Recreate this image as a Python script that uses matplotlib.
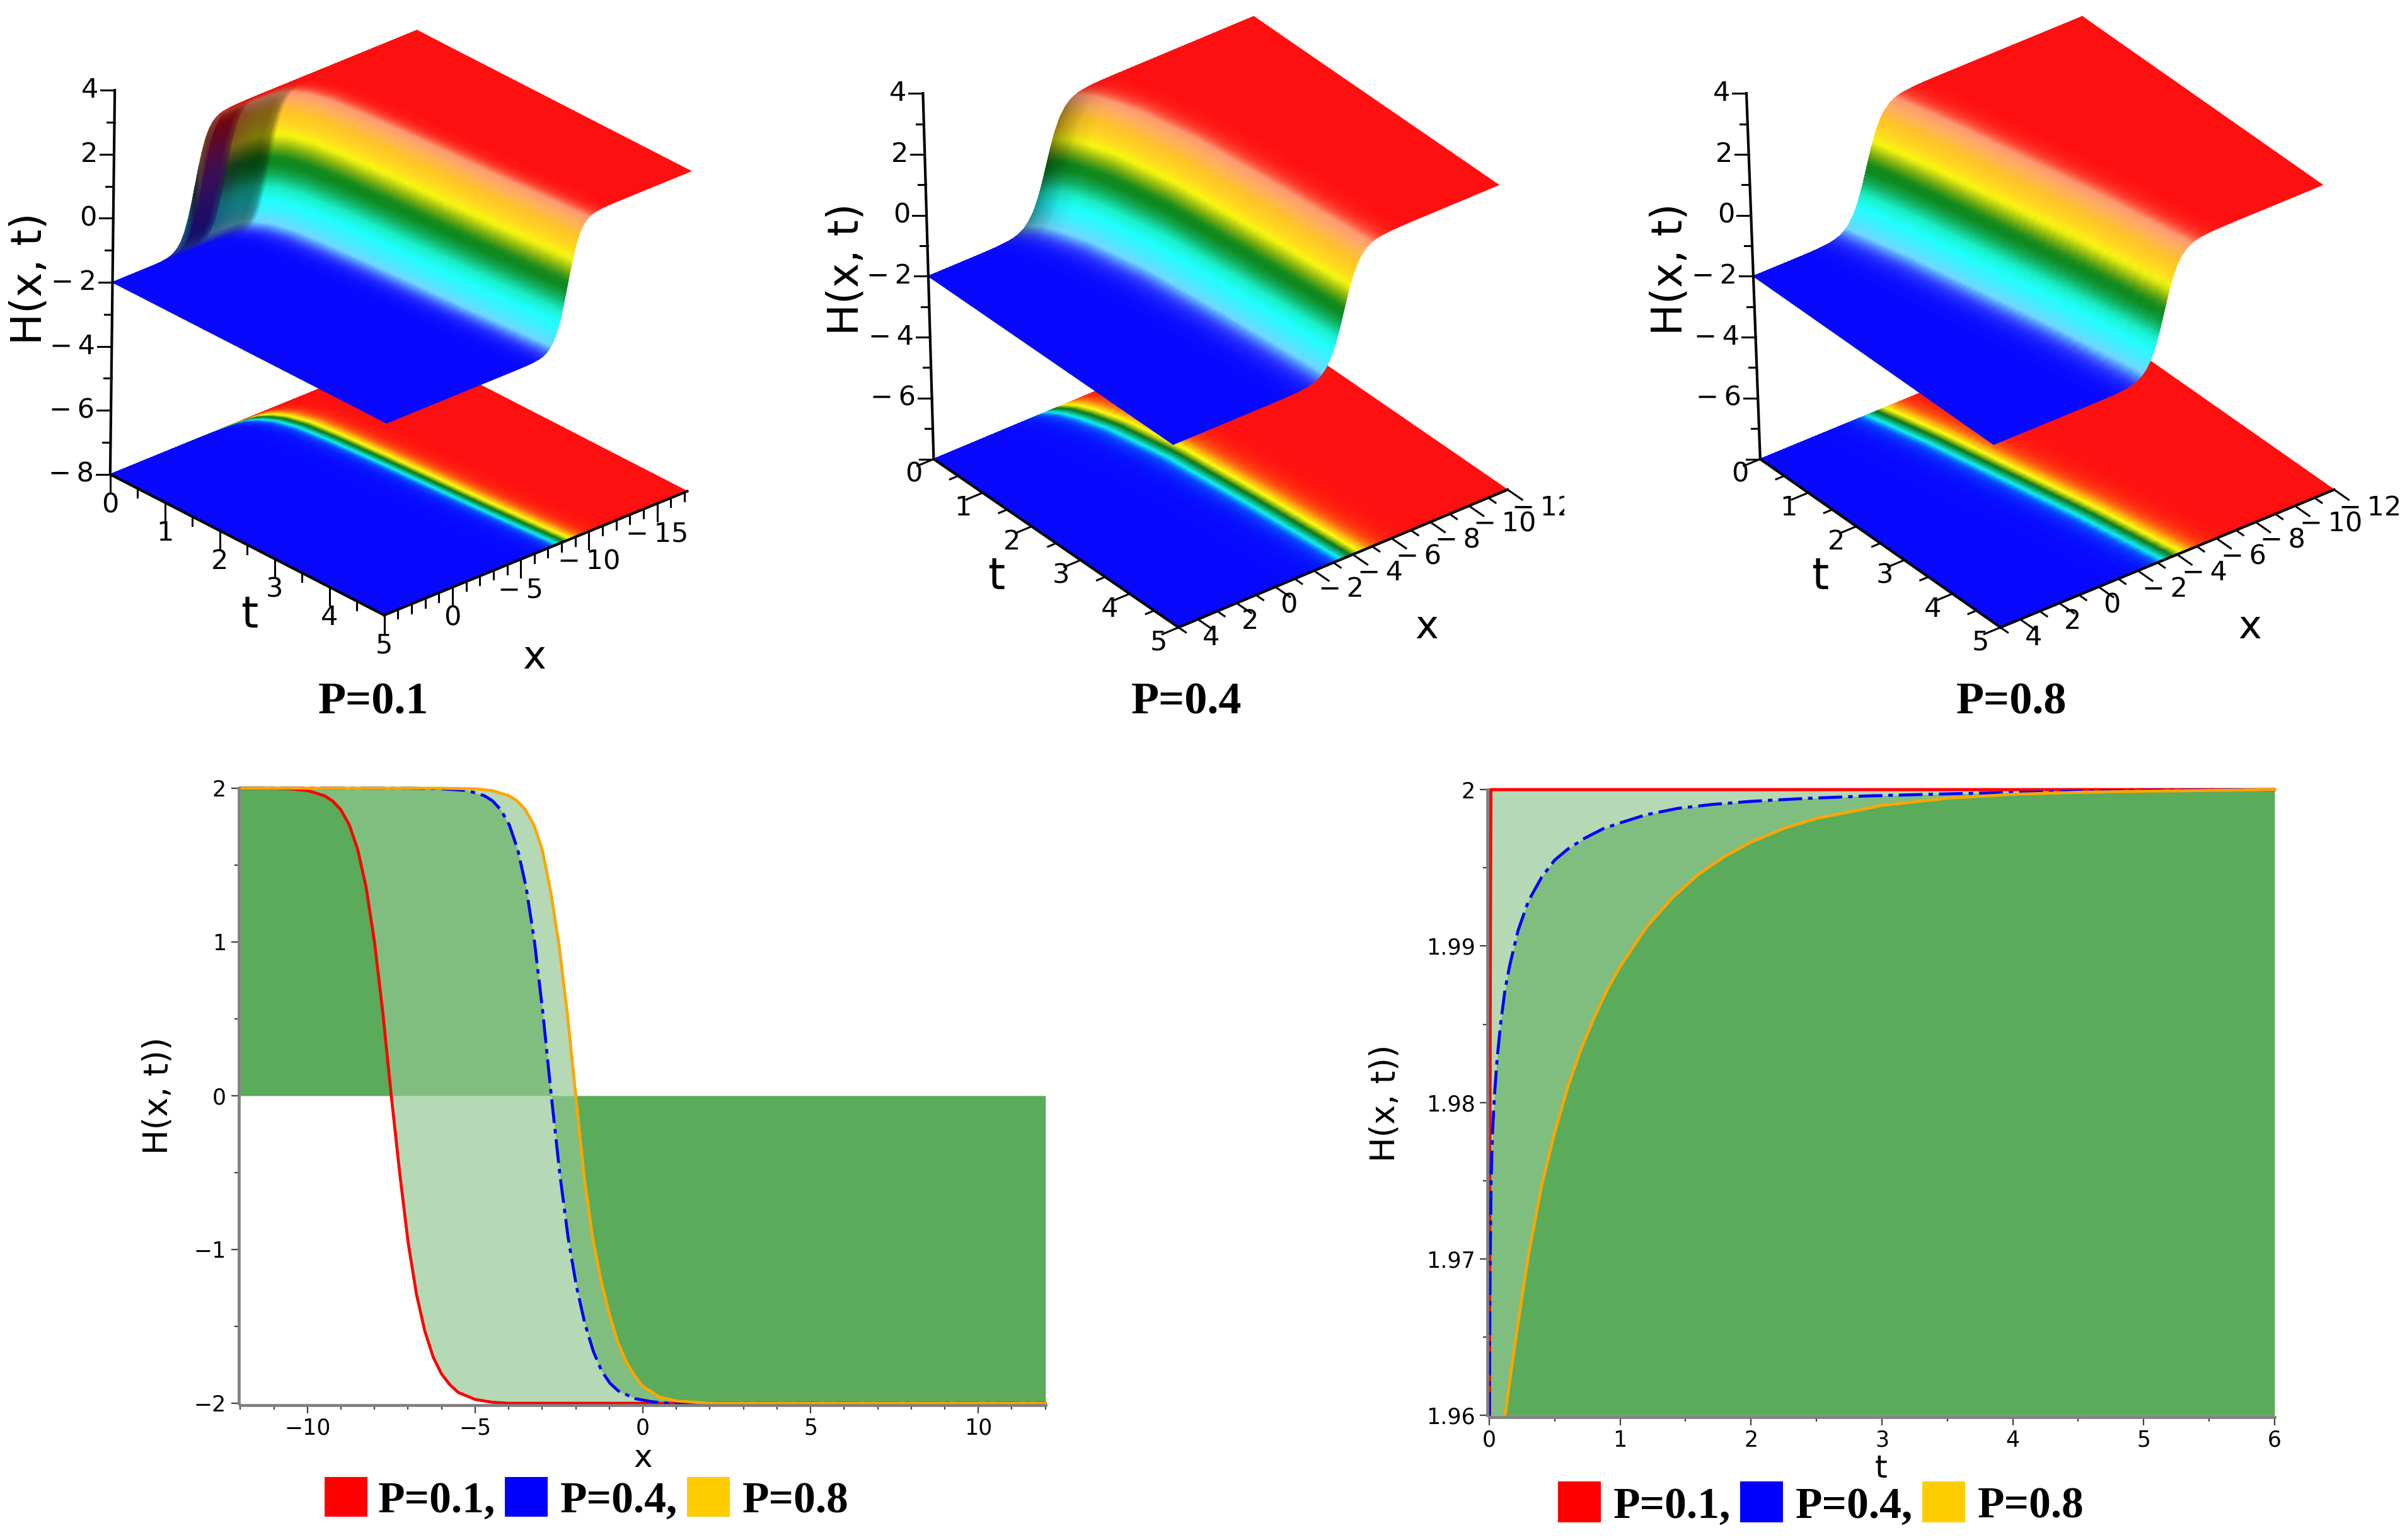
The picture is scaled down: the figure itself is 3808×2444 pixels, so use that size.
#!/usr/bin/env python3
"""Three surfaces H(x, t) with density floors, plus two filled line plots."""

import matplotlib
matplotlib.use("Agg")
import matplotlib.pyplot as plt
import numpy as np
from matplotlib.colors import LinearSegmentedColormap
from matplotlib.patches import Rectangle

W, H_PX = 3808, 2444
OV = 3808 / 1568  # overview pixels to full pixels

# kink profile, offset from the kink centre against H
offset = [-6, -4, -3.5, -3, -2.5, -2, -1.75, -1.5, -1.25, -1, -0.75, -0.5, -0.25, 0,
          0.25, 0.5, 0.75, 1, 1.25, 1.5, 1.75, 2, 2.5, 3, 3.5, 4, 6]
profile = [2, 2, 1.998, 1.995, 1.984, 1.951, 1.917, 1.858, 1.76, 1.6, 1.356, 1.0, 0.537, 0,
           -0.537, -1.0, -1.356, -1.6, -1.76, -1.858, -1.917, -1.951, -1.984, -1.995, -1.998, -2, -2]

# kink centre along t
centre_t_01 = [0, 0.004, 0.02, 0.05, 0.14, 0.3, 0.6, 1.1, 1.9, 3.6, 5]
centre_x_01 = [-1, -3.2, -4.8, -5.4, -6, -6.5, -6.9, -7.15, -7.4, -7.8, -8.2]
centre_t_04 = [0, 0.05, 0.15, 0.38, 0.8, 1.76, 3.2, 5]
centre_x_04 = [-1.2, -1.45, -1.75, -2.1, -2.55, -3.1, -3.5, -3.9]
centre_t_08 = [0, 0.3, 1, 2.2, 3.5, 5]
centre_x_08 = [-0.9, -1.15, -1.65, -2.35, -3.1, -3.8]

# darkening of the steep part near t=0
shade_t_01 = [0, 0.005, 0.02, 0.05, 0.1, 0.14]
shade_m_01 = [0.55, 0.55, 0.5, 0.5, 0.6, 1]
shade_t_04 = [0, 0.05, 0.2, 0.4]
shade_m_04 = [0.6, 0.72, 0.92, 1]
shade_t_08 = [0, 5]
shade_m_08 = [1, 1]

# share of the maroon-to-navy tone in the fold at t=0
fold_t_01 = [0, 0.001, 0.003, 0.005, 0.02]
fold_a_01 = [0.3, 1, 1, 0.3, 0]
fold_t_none = [0, 5]
fold_a_none = [0, 0]

# left line plot
x_p01 = [-12, -11, -10.5, -10, -9.5, -9.25, -9, -8.75, -8.5, -8.25, -8, -7.75, -7.5, -7.25, -7,
         -6.75, -6.5, -6.25, -6, -5.75, -5.5, -5, -4.5, -4, 12]
h_p01 = [2, 1.999, 1.995, 1.984, 1.951, 1.917, 1.858, 1.76, 1.6, 1.356, 1.0, 0.537, 0, -0.5, -0.95,
         -1.29, -1.53, -1.7, -1.81, -1.88, -1.93, -1.975, -1.993, -2, -2]
x_p04 = [-12, -7, -6, -5.23, -4.73, -4.48, -4.23, -3.98, -3.73, -3.48, -3.23, -2.98, -2.73, -2.48,
         -2.23, -1.98, -1.73, -1.48, -1.23, -0.98, -0.73, -0.23, 0.27, 0.77, 12]
h_p04 = [2, 1.999, 1.995, 1.984, 1.951, 1.917, 1.858, 1.76, 1.6, 1.356, 1.0, 0.537, 0, -0.5,
         -0.92, -1.24, -1.48, -1.66, -1.79, -1.87, -1.92, -1.97, -1.99, -2, -2]
x_p08 = [-12, -6, -5, -4.5, -4, -3.75, -3.5, -3.25, -3, -2.75, -2.5, -2.25, -2, -1.75, -1.5, -1.25,
         -1, -0.75, -0.5, -0.25, 0, 0.5, 1, 2, 12]
h_p08 = [2, 1.999, 1.995, 1.984, 1.951, 1.917, 1.858, 1.76, 1.6, 1.33, 0.98, 0.53, 0, -0.53, -0.92, -1.2,
         -1.42, -1.6, -1.73, -1.82, -1.89, -1.96, -1.985, -2, -2]

# right line plot
t_p01 = [0.001, 0.004, 0.008, 0.012, 6]
y_p01 = [1.96, 1.975, 1.99, 2.0, 2.0]
t_p04 = [0, 0.006, 0.014, 0.025, 0.04, 0.06, 0.086, 0.12, 0.157, 0.22, 0.3, 0.4, 0.5, 0.6, 0.73,
         0.87, 1.01, 1.2, 1.44, 1.7, 2, 2.4, 2.9, 3.6, 4.3, 5, 6]
y_p04 = [1.96, 1.969, 1.975, 1.9782, 1.9805, 1.9828, 1.985, 1.9872, 1.9888, 1.991, 1.9929, 1.9944, 1.9955,
         1.9962, 1.9969, 1.9975, 1.9979, 1.9984, 1.9988, 1.99905, 1.99925, 1.99943, 1.9996, 1.99975,
         1.99987, 1.99995, 2.0]
t_p08 = [0.12, 0.2, 0.3, 0.4, 0.5, 0.6, 0.7, 0.8, 0.9, 1.0, 1.2, 1.4, 1.6, 1.8, 2.0, 2.25, 2.5, 3, 3.5, 4,
         4.5, 5, 6]
y_p08 = [1.96, 1.9648, 1.9703, 1.9747, 1.9781, 1.981, 1.9834, 1.9854, 1.9872, 1.9887, 1.9912, 1.9931,
         1.9946, 1.99574, 1.99665, 1.99752, 1.99816, 1.99899, 1.99945, 1.9997, 1.99983, 1.9999, 2.0]

panel_names = ["P=0.1", "P=0.4", "P=0.8"]
legend_names = ["P=0.1,", "P=0.4,", "P=0.8"]
legend_colors = ["#ff0000", "#0000ff", "#ffcc00"]
h_ticks = [-8, -6, -4, -2, 0, 2, 4]
t_ticks = [0, 1, 2, 3, 4, 5]

# upper surface and floor colours by height
surf_h = [-2, -1.9, -1.7, -1.4, -1.1, -0.75, -0.4, -0.1, 0.1, 0.4, 0.75, 1.05, 1.4, 1.7, 1.87, 1.97, 2]
surf_c = ["#0808ff", "#3040ff", "#70d8ff", "#40f0ff", "#20ffff", "#18f0c8", "#10b060", "#0e8a20", "#108a1e",
          "#80b010", "#f8f810", "#ffd820", "#ffc428", "#ffb060", "#ff9a70", "#ff2a20", "#ff1010"]
floor_h = [-2, -1.5, -1, -0.4, 0, 0.5, 0.9, 1.4, 1.9, 2]
floor_c = ["#0808ff", "#0850ff", "#10f0f0", "#10a060", "#0a7a20", "#a0c010", "#ffff10", "#ffb010",
           "#ff3010", "#ff1010"]
fold_h = [-2, 0, 1, 2]
fold_c = ["#0a0a70", "#38105a", "#5a0a30", "#800000"]


def make_cmap(levels, colors):
    nodes = [(v + 2) / 4 for v in levels]
    return LinearSegmentedColormap.from_list("c", list(zip(nodes, colors)), N=1024)


SURF_CMAP = make_cmap(surf_h, surf_c)
FLOOR_CMAP = make_cmap(floor_h, floor_c)
FOLD_CMAP = make_cmap(fold_h, fold_c)


def px(p):
    return np.array(p, dtype=float) * OV


def draw_surface(ax, p):
    origin, t_end, x_end, h_top = px(p["origin"]), px(p["t5"]), px(p["xend"]), px(p["htop"])
    et = t_end - origin
    ex = x_end - t_end
    eh = (h_top - origin) / 12.0
    xmax, xmin = p["xmax"], p["xmin"]

    def proj(t, x, h):
        a = np.asarray(t, dtype=float) / 5.0
        b = (xmax - np.asarray(x, dtype=float)) / (xmax - xmin)
        c = np.asarray(h, dtype=float) + 8.0
        return (origin[0] + a * et[0] + b * ex[0] + c * eh[0],
                origin[1] + a * et[1] + b * ex[1] + c * eh[1])

    t_mesh = np.concatenate([[0.0], np.geomspace(0.001, 5.0, 200)])
    x_mesh = np.linspace(xmin, xmax, 420)
    tt, xx = np.meshgrid(t_mesh, x_mesh, indexing="ij")
    centre = np.interp(tt, p["ct"], p["cx"])
    hh = np.interp(xx - centre, offset, profile)
    unit = (hh + 2) / 4

    fx, fy = proj(tt, xx, -8.0 * np.ones_like(hh))
    ax.pcolormesh(fx, fy, FLOOR_CMAP(unit)[..., :3], shading="gouraud", zorder=2)

    rgb = SURF_CMAP(unit)[..., :3]
    steep = np.clip(1 - (np.abs(hh) / 2) ** 12, 0, 1)
    mult = np.interp(tt, p["st"], p["sm"])
    rgb = rgb * (1 - (1 - mult) * steep)[..., None]
    blend = (np.interp(tt, p["ft"], p["fa"]) * steep)[..., None]
    rgb = (1 - blend) * rgb + blend * FOLD_CMAP(unit)[..., :3]
    sx, sy = proj(tt, xx, hh)
    ax.pcolormesh(sx, sy, rgb, shading="gouraud", zorder=3)

    black = dict(color="black", lw=3.0, zorder=4, solid_capstyle="projecting")
    ax.plot(*proj([0, 0], [xmax, xmax], [-8, 4]), **black)
    ax.plot(*proj([0, 5], [xmax, xmax], [-8, -8]), **black)
    ax.plot(*proj([5, 5], [xmax, xmin], [-8, -8]), **black)

    # height axis
    for v in np.arange(-8, 4.5, 1):
        x0, y0 = proj(0, xmax, v)
        size = 22 if v % 2 == 0 else 12
        ax.plot([x0 - size, x0], [y0, y0], color="black", lw=2.2, zorder=4)
    for v in h_ticks:
        if v == -8 and not p["label_h8"]:
            continue
        x0, y0 = proj(0, xmax, v)
        label = str(v).replace("-", "\u2212\u2009")
        ax.text(x0 - 26, y0, label, ha="right", va="center", fontsize=31, zorder=5)

    et_dir = et / np.hypot(*et)
    ex_dir = ex / np.hypot(*ex)
    # tick directions: straight down in the first panel, along the other axis elsewhere
    t_dir = np.array([0.0, 1.0]) if p["down"] else -ex_dir
    x_dir = np.array([0.0, 1.0]) if p["down"] else et_dir

    for v in np.arange(0, 5.01, 0.5):
        x0, y0 = proj(v, xmax, -8)
        size = 28 if v % 1 == 0 else 14
        ax.plot([x0, x0 + t_dir[0] * size], [y0, y0 + t_dir[1] * size],
                color="black", lw=2.2, zorder=4)
    for v in t_ticks:
        x0, y0 = proj(v, xmax, -8)
        ax.text(x0 + p["tl"][0] * OV, y0 + p["tl"][1] * OV, str(v), ha="center", va="center",
                fontsize=31, zorder=5)

    for v in np.arange(np.ceil(xmin), xmax + 0.01, 1):
        x0, y0 = proj(5, v, -8)
        size = 28 if v % p["xstep"] == 0 else 14
        ax.plot([x0, x0 + x_dir[0] * size], [y0, y0 + x_dir[1] * size],
                color="black", lw=2.2, zorder=4)
    for v in p["xticks"]:
        x0, y0 = proj(5, v, -8)
        label = str(v).replace("-", "\u2212\u2009")
        txt = ax.text(x0 + p["xl"][0] * OV, y0 + p["xl"][1] * OV, label, ha=p["xha"], va="center",
                      fontsize=31, zorder=5)
        if p["clip"]:
            txt.set_clip_path(Rectangle((0, 0), p["clip"], H_PX, transform=ax.transData))
            txt.set_clip_on(True)

    ax.text(*px(p["hlabel"]), "H(x, t)", rotation=90, ha="center", va="center", fontsize=48, zorder=5)
    ax.text(*px(p["tlabel"]), "t", ha="center", va="center", fontsize=50, zorder=5)
    ax.text(*px(p["xlabel"]), "x", ha="center", va="center", fontsize=45, zorder=5)
    ax.text(*px(p["title"]), p["name"], ha="center", va="center", fontsize=52, fontweight="bold",
            family="Liberation Serif", zorder=5)


def line_axes(fig, box):
    l, r, t, b = [v * OV for v in box]
    a = fig.add_axes([l / W, 1 - b / H_PX, (r - l) / W, (b - t) / H_PX], zorder=5)
    a.patch.set_alpha(0)
    for name in ("top", "right"):
        a.spines[name].set_visible(False)
    for name in ("left", "bottom"):
        a.spines[name].set_linewidth(3.4)
        a.spines[name].set_color("#808080")
        a.spines[name].set_position(("outward", 2))
    a.tick_params(which="major", length=9, width=1.6, color="#404040", labelsize=25, pad=5)
    a.tick_params(which="minor", length=5, width=1.6, color="#404040")
    return a


def line_legend(ax, swatches, texts, top, bottom):
    for left, color in zip(swatches, legend_colors):
        ax.add_patch(Rectangle((left * OV, top * OV), 28 * OV, (bottom - top) * OV, color=color, lw=0, zorder=5))
    for left, name in zip(texts, legend_names):
        ax.text(left * OV, (top + bottom) / 2 * OV + 8, name, ha="left", va="center", fontsize=50,
                fontweight="bold", family="Liberation Serif", zorder=5)


def main():
    fig = plt.figure(figsize=(W / 100, H_PX / 100), dpi=100)
    ax = fig.add_axes([0, 0, 1, 1], zorder=1)
    ax.set_xlim(0, W)
    ax.set_ylim(H_PX, 0)
    ax.axis("off")

    panels = [
        dict(name=panel_names[0], origin=(72, 310), t5=(251, 402), xend=(449, 321), htop=(75, 59),
             xmax=5, xmin=-17.2, ct=centre_t_01, cx=centre_x_01, st=shade_t_01, sm=shade_m_01,
             ft=fold_t_01, fa=fold_a_01, label_h8=True, down=True, tl=(0, 20), xl=(0, 20), xha="center",
             xstep=5, xticks=[0, -5, -10, -15], clip=None, hlabel=(19, 182), tlabel=(163, 402),
             xlabel=(349, 430), title=(244, 459)),
        dict(name=panel_names[1], origin=(610, 300), t5=(770, 410), xend=(985, 320), htop=(603, 61),
             xmax=5, xmin=-12, ct=centre_t_04, cx=centre_x_04, st=shade_t_04, sm=shade_m_04,
             ft=fold_t_none, fa=fold_a_none, label_h8=False, down=False, tl=(-13, 10), xl=(3, 12), xha="left",
             xstep=2, xticks=[4, 2, 0, -2, -4, -6, -8, -10, -12], clip=1022 * OV, hlabel=(553, 176),
             tlabel=(651, 377), xlabel=(932, 410), title=(775, 459)),
        dict(name=panel_names[2], origin=(1150, 300), t5=(1307, 410), xend=(1525, 320), htop=(1141, 61),
             xmax=5, xmin=-12, ct=centre_t_08, cx=centre_x_08, st=shade_t_08, sm=shade_m_08,
             ft=fold_t_none, fa=fold_a_none, label_h8=False, down=False, tl=(-13, 10), xl=(3, 12), xha="left",
             xstep=2, xticks=[4, 2, 0, -2, -4, -6, -8, -10, -12], clip=None, hlabel=(1091, 176),
             tlabel=(1189, 377), xlabel=(1470, 410), title=(1314, 459)),
    ]
    for p in panels:
        draw_surface(ax, p)

    green = dict(color="#007d00", alpha=0.29, lw=0)
    dashdot = (0, (8.0, 2.0, 1.5, 2.0))

    left = line_axes(fig, (157, 683, 515, 917))
    for xs, hs in ((x_p01, h_p01), (x_p04, h_p04), (x_p08, h_p08)):
        left.fill_between(xs, hs, 0, **green)
    left.plot(x_p01, h_p01, color="#ff0000", lw=3.4, clip_on=False)
    left.plot(x_p04, h_p04, color="#0000ff", lw=3.4, ls=dashdot, clip_on=False)
    left.plot(x_p08, h_p08, color="#ffa500", lw=3.4, clip_on=False)
    left.set_xlim(-12, 12)
    left.set_ylim(-2, 2)
    left.set_xticks([-10, -5, 0, 5, 10])
    left.set_xticks(np.arange(-12, 12.1, 1), minor=True)
    left.set_yticks([-2, -1, 0, 1, 2])
    left.set_yticks(np.arange(-2, 2.1, 0.5), minor=True)
    ax.text(420 * OV, 953 * OV, "x", ha="center", va="center", fontsize=36, zorder=5)
    ax.text(103 * OV, 716 * OV, "H(x, t))", rotation=90, ha="center", va="center", fontsize=38, zorder=5)

    right = line_axes(fig, (973, 1486, 516, 925))
    for ts, ys in ((t_p01, y_p01), (t_p04, y_p04), (t_p08, y_p08)):
        right.fill_between(ts, ys, 1.96, **green)
    right.plot(t_p01, y_p01, color="#ff0000", lw=3.6, clip_on=False)
    right.plot(t_p04, y_p04, color="#0000ff", lw=3.4, ls=dashdot, clip_on=False)
    right.plot(t_p08, y_p08, color="#ffa500", lw=3.4, clip_on=False)
    right.set_xlim(0, 6)
    right.set_ylim(1.96, 2)
    right.set_xticks([0, 1, 2, 3, 4, 5, 6])
    right.set_xticks(np.arange(0, 6.1, 0.5), minor=True)
    right.set_yticks([1.96, 1.97, 1.98, 1.99, 2])
    right.set_yticklabels(["1.96", "1.97", "1.98", "1.99", "2"])
    right.set_yticks(np.arange(1.96, 2.0001, 0.005), minor=True)
    ax.text(1229 * OV, 960 * OV, "t", ha="center", va="center", fontsize=36, zorder=5)
    ax.text(905 * OV, 721 * OV, "H(x, t))", rotation=90, ha="center", va="center", fontsize=38, zorder=5)

    line_legend(ax, [212, 330, 449], [247, 366, 485], 965, 991)
    line_legend(ax, [1018, 1137, 1256], [1054, 1173, 1292], 968, 995)

    fig.savefig("out.png", dpi=100, facecolor="white")
    plt.close(fig)


if __name__ == "__main__":
    main()
